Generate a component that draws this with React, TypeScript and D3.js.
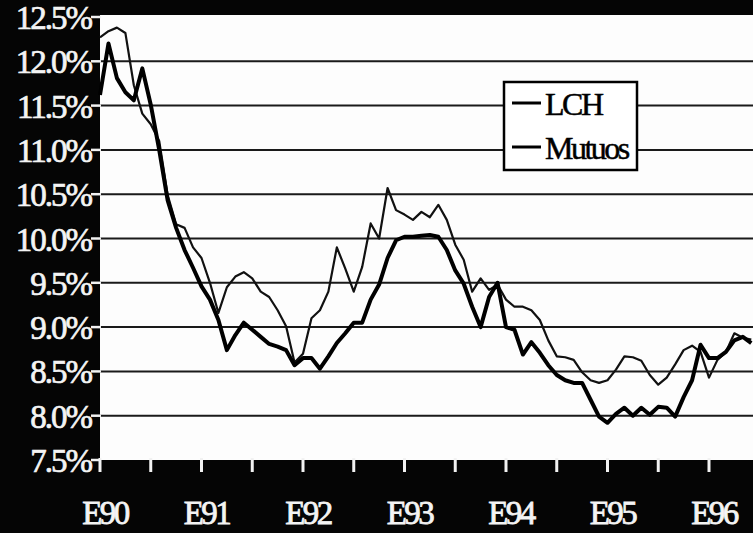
import React from "react";
import * as d3 from "d3";

const W = 753;
const H = 533;

// Monthly rates, Jan 1990 .. Jun 1996
const lch = [
  12.27, 12.34, 12.38, 12.32, 11.73, 11.41, 11.29, 11.1, 10.49, 10.16,
  10.12, 9.9, 9.78, 9.5, 9.16, 9.45, 9.57, 9.62, 9.55, 9.4,
  9.34, 9.19, 9.01, 8.6, 8.7, 9.1, 9.19, 9.4, 9.9, 9.66,
  9.4, 9.68, 10.17, 10.0, 10.57, 10.32, 10.27, 10.21, 10.3, 10.24,
  10.38, 10.21, 9.93, 9.76, 9.4, 9.55, 9.42, 9.48, 9.31, 9.23,
  9.23, 9.19, 9.08, 8.85, 8.67, 8.66, 8.63, 8.49, 8.4, 8.37,
  8.4, 8.52, 8.67, 8.66, 8.62, 8.46, 8.35, 8.43, 8.58, 8.74,
  8.79, 8.72, 8.43, 8.63, 8.72, 8.93, 8.88, 8.86,
];
const mutuos = [
  11.62, 12.2, 11.81, 11.65, 11.56, 11.92, 11.51, 11.0, 10.43, 10.12,
  9.87, 9.67, 9.46, 9.31, 9.08, 8.74, 8.91, 9.05, 8.97, 8.89,
  8.81, 8.78, 8.74, 8.57, 8.65, 8.65, 8.53, 8.67, 8.82, 8.93,
  9.05, 9.05, 9.31, 9.48, 9.78, 9.98, 10.02, 10.02, 10.03, 10.04,
  10.02, 9.87, 9.64, 9.49, 9.23, 9.0, 9.34, 9.5, 9.0, 8.97,
  8.69, 8.83, 8.71, 8.57, 8.46, 8.4, 8.37, 8.37, 8.18, 7.99,
  7.92, 8.02, 8.09, 8.0, 8.09, 8.01, 8.1, 8.09, 7.99, 8.21,
  8.4, 8.8, 8.65, 8.65, 8.72, 8.85, 8.89, 8.82,
];
const yTicks = [7.5, 8.0, 8.5, 9.0, 9.5, 10.0, 10.5, 11.0, 11.5, 12.0, 12.5];
const yearLabels = ["E90", "E91", "E92", "E93", "E94", "E95", "E96"];
const seriesNames = ["LCH", "Mutuos"];

export default function App() {
  const x = d3.scaleLinear().domain([0, 72]).range([100, 709]);
  const y = d3.scaleLinear().domain([7.5, 12.5]).range([460, 17]);
  const line = d3
    .line<number>()
    .x((_, i) => x(i))
    .y((d) => y(d));
  const font = "'Liberation Serif', 'DejaVu Serif', serif";
  const halfYears = d3.range(0, 78, 6);

  return (
    <div style={{ position: "absolute", left: 0, top: 0, width: W, height: H, background: "#000" }}>
      <svg width={W} height={H} style={{ display: "block" }}>
        <rect x={0} y={0} width={W} height={H} fill="#050505" />
        <rect x={100} y={15} width={W - 100} height={460 - 15} fill="#fdfdfd" />
        {yTicks.slice(1, -1).map((t) => (
          <line key={"g" + t} x1={100} x2={W} y1={y(t)} y2={y(t)} stroke="#1a1a1a" strokeWidth={2} />
        ))}
        {yTicks.map((t) => (
          <g key={"yt" + t}>
            <line x1={91} x2={101} y1={y(t)} y2={y(t)} stroke="#f2f2f2" strokeWidth={2.5} />
            <text
              x={91}
              y={y(t) + 12}
              textAnchor="end"
              fill="#f4f4f4"
              stroke="#f4f4f4"
              strokeWidth={0.7}
              fontFamily={font}
              fontSize={33}
              letterSpacing={-2}
            >
              {t.toFixed(1) + "%"}
            </text>
          </g>
        ))}
        {halfYears.map((m) => (
          <line key={"xt" + m} x1={x(m)} x2={x(m)} y1={458} y2={472} stroke="#f2f2f2" strokeWidth={3} />
        ))}
        {yearLabels.map((lab, i) => (
          <text
            key={lab}
            x={x(i * 12) + 5}
            y={524}
            textAnchor="middle"
            fill="#f4f4f4"
            stroke="#f4f4f4"
            strokeWidth={0.8}
            fontFamily={font}
            fontSize={33}
            letterSpacing={-2.5}
          >
            {lab}
          </text>
        ))}
        <path d={line(lch) || ""} fill="none" stroke="#111" strokeWidth={2.2} strokeLinejoin="round" />
        <path d={line(mutuos) || ""} fill="none" stroke="#000" strokeWidth={4} strokeLinejoin="round" />
        <g>
          <rect x={504} y={82} width={133} height={88} fill="#fff" stroke="#000" strokeWidth={2.5} />
          {seriesNames.map((n, i) => (
            <g key={n}>
              <line x1={512} x2={541} y1={103 + i * 44} y2={103 + i * 44} stroke="#000" strokeWidth={3} />
              <text
                x={545}
                y={115 + i * 44}
                fill="#000"
                stroke="#000"
                strokeWidth={0.5}
                fontFamily={font}
                fontSize={32}
                letterSpacing={-2.5}
              >
                {n}
              </text>
            </g>
          ))}
        </g>
      </svg>
    </div>
  );
}
